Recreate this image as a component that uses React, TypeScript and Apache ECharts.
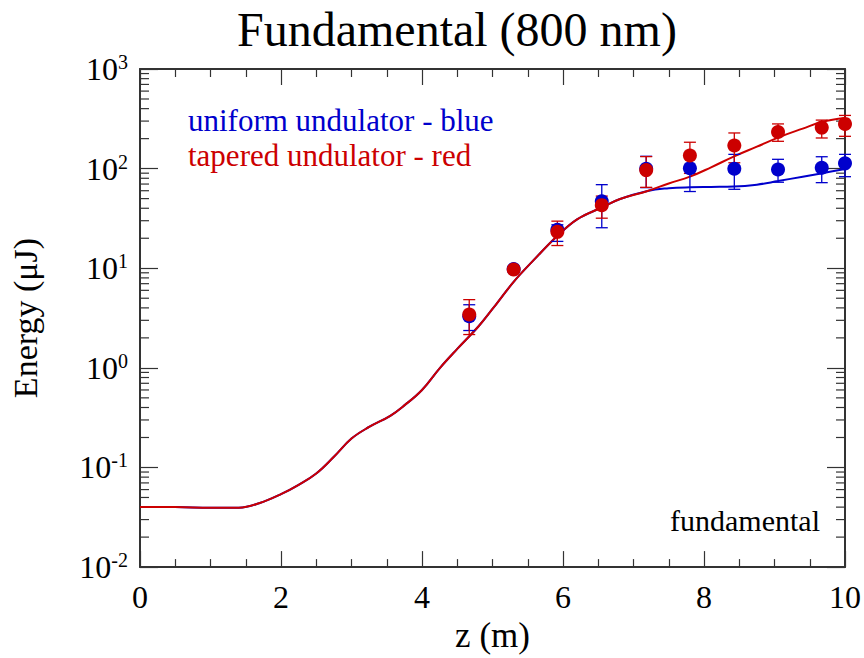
import React, { useEffect, useRef } from "react";
import * as echarts from "echarts";

const FONT = "'Liberation Serif', 'Times New Roman', serif";
const BLUE = "#0000cc";
const RED = "#cc0000";
const AXIS = "#333333";

// Simulated curves (shared part up to z ~ 7.2)
const sharedZ = [0, 0.5, 1.0, 1.4, 1.7, 2.0, 2.25, 2.5, 2.75, 3.0, 3.25, 3.55, 3.75, 4.0, 4.25, 4.5, 4.8, 5.0, 5.3, 5.6, 5.9, 6.2, 6.55, 6.8, 7.2];
const sharedE = [0.04, 0.04, 0.0395, 0.0395, 0.044, 0.054, 0.067, 0.087, 0.128, 0.195, 0.255, 0.33, 0.42, 0.6, 0.99, 1.55, 2.6, 3.9, 7.3, 12.4, 20.5, 31, 40.7, 49.3, 59.7];
const tailZ = [7.5, 7.8, 8.1, 8.42, 8.75, 9.05, 9.4, 9.68, 10.0];
const blueTailE = [63.5, 65, 65.5, 66, 69, 75, 83, 90, 99];
const redTailE = [71, 83, 103, 132, 166, 205, 252, 295, 322];

// Measured points
const pointZ = [4.67, 5.3, 5.92, 6.55, 7.18, 7.8, 8.43, 9.05, 9.67, 10.0];
const blueE = [3.3, 9.8, 24.3, 47, 99.6, 101, 99.6, 98, 102, 113];
const blueLo = [2.37, 9.2, 18.6, 25.5, 64.4, 58.9, 62, 73, 72.3, 83];
const blueHi = [4.3, 10.4, 27.3, 69, 133, 144, 139, 124, 131.6, 139];
const redE = [3.43, 9.7, 23.2, 43, 96.6, 135.5, 170.6, 233, 258, 281];
const redLo = [2.16, 9.2, 16.9, 31.8, 64.9, 89.5, 114.5, 188, 203, 211];
const redHi = [4.84, 10.3, 29.7, 53, 132, 184, 228, 281, 307, 342];

const decades = [-2, -1, 0, 1, 2];
const minorMultipliers = [2, 3, 4, 5, 6, 7, 8, 9];

export default function App() {
  const ref = useRef<HTMLDivElement>(null);
  useEffect(() => {
    if (!ref.current) return;
    const chart = echarts.init(ref.current, null, { renderer: "svg" });

    const blueLine = sharedZ.map((z, i) => [z, sharedE[i]]).concat(tailZ.map((z, i) => [z, blueTailE[i]]));
    const redLine = sharedZ.map((z, i) => [z, sharedE[i]]).concat(tailZ.map((z, i) => [z, redTailE[i]]));
    const minorVals: number[][] = [];
    decades.forEach((d) => minorMultipliers.forEach((m) => minorVals.push([0, m * Math.pow(10, d)])));

    const errRender = (color: string) => (params: any, api: any) => {
      const x = api.value(0);
      const pLo = api.coord([x, api.value(1)]);
      const pHi = api.coord([x, api.value(2)]);
      const cap = 6;
      const style = { stroke: color, lineWidth: 1.3 };
      return {
        type: "group",
        children: [
          { type: "line", shape: { x1: pLo[0], y1: pLo[1], x2: pHi[0], y2: pHi[1] }, style },
          { type: "line", shape: { x1: pLo[0] - cap, y1: pLo[1], x2: pLo[0] + cap, y2: pLo[1] }, style },
          { type: "line", shape: { x1: pHi[0] - cap, y1: pHi[1], x2: pHi[0] + cap, y2: pHi[1] }, style },
        ],
      };
    };

    const minorRender = (params: any, api: any) => {
      const cs = params.coordSys;
      const p = api.coord([0, api.value(1)]);
      const y = p[1];
      const len = 9;
      const style = { stroke: AXIS, lineWidth: 1.2 };
      return {
        type: "group",
        children: [
          { type: "line", shape: { x1: cs.x, y1: y, x2: cs.x + len, y2: y }, style },
          { type: "line", shape: { x1: cs.x + cs.width, y1: y, x2: cs.x + cs.width - len, y2: y }, style },
        ],
      };
    };

    const xCommon = {
      type: "value",
      min: 0,
      max: 10,
      interval: 2,
      axisLine: { show: true, onZero: false, lineStyle: { color: AXIS, width: 2 } },
      axisTick: { show: true, inside: true, length: 16, lineStyle: { color: AXIS, width: 1.2 } },
      minorTick: { show: true, splitNumber: 4, length: 8, lineStyle: { color: AXIS, width: 1.2 } },
      splitLine: { show: false },
      minorSplitLine: { show: false },
    };
    const yCommon = {
      type: "log",
      logBase: 10,
      min: 0.01,
      max: 1000,
      axisLine: { show: true, onZero: false, lineStyle: { color: AXIS, width: 2 } },
      axisTick: { show: true, inside: true, length: 18, lineStyle: { color: AXIS, width: 1.2 } },
      splitLine: { show: false },
    };

    chart.setOption({
      animation: false,
      backgroundColor: "#ffffff",
      grid: { left: 140, right: 18, top: 69, bottom: 88, containLabel: false },
      xAxis: [
        {
          ...xCommon,
          position: "bottom",
          name: "z (m)",
          nameLocation: "middle",
          nameGap: 46,
          nameTextStyle: { fontFamily: FONT, fontSize: 35, color: "#000" },
          axisLabel: { show: true, margin: 14, fontFamily: FONT, fontSize: 32, color: "#000" },
        },
        { ...xCommon, position: "top", axisLabel: { show: false } },
      ],
      yAxis: [
        {
          ...yCommon,
          position: "left",
          name: "Energy (\u03bcJ)",
          nameLocation: "middle",
          nameGap: 98,
          nameTextStyle: { fontFamily: FONT, fontSize: 34, color: "#000" },
          axisLabel: {
            show: true,
            margin: 12,
            formatter: (v: number) => `{b|10}{s|${Math.round(Math.log10(v))}}`,
            rich: {
              b: { fontFamily: FONT, fontSize: 32, color: "#000", lineHeight: 34 },
              s: { fontFamily: FONT, fontSize: 20, color: "#000", verticalAlign: "top", lineHeight: 20 },
            },
          },
        },
        { ...yCommon, position: "right", axisLabel: { show: false } },
      ],
      graphic: [
        {
          type: "text",
          left: 467 - 230,
          top: 5,
          style: { text: "Fundamental (800 nm)", fontFamily: FONT, fontSize: 48, fill: "#000", width: 460, align: "center" },
        },
        { type: "text", left: 188, top: 105, style: { text: "uniform undulator - blue", fontFamily: FONT, fontSize: 31, fill: BLUE } },
        { type: "text", left: 188, top: 140, style: { text: "tapered undulator - red", fontFamily: FONT, fontSize: 31, fill: RED } },
        { type: "text", right: 44, top: 505, style: { text: "fundamental", fontFamily: FONT, fontSize: 30, fill: "#000" } },
      ],
      series: [
        {
          type: "custom",
          name: "minorTicks",
          xAxisIndex: 0,
          yAxisIndex: 0,
          renderItem: minorRender,
          data: minorVals,
          encode: { x: 0, y: 1 },
          clip: false,
          silent: true,
          z: 1,
        },
        {
          type: "line",
          name: "uniform",
          data: blueLine,
          showSymbol: false,
          smooth: 0.4,
          lineStyle: { color: BLUE, width: 2 },
          z: 2,
        },
        {
          type: "line",
          name: "tapered",
          data: redLine,
          showSymbol: false,
          smooth: 0.4,
          lineStyle: { color: RED, width: 2 },
          z: 3,
        },
        {
          type: "custom",
          name: "blueErr",
          renderItem: errRender(BLUE),
          data: pointZ.map((z, i) => [z, blueLo[i], blueHi[i]]),
          encode: { x: 0, y: [1, 2] },
          z: 4,
        },
        {
          type: "custom",
          name: "redErr",
          renderItem: errRender(RED),
          data: pointZ.map((z, i) => [z, redLo[i], redHi[i]]),
          encode: { x: 0, y: [1, 2] },
          z: 5,
        },
        {
          type: "scatter",
          name: "bluePts",
          data: pointZ.map((z, i) => [z, blueE[i]]),
          symbol: "circle",
          symbolSize: 14,
          itemStyle: { color: BLUE, opacity: 1 },
          z: 6,
        },
        {
          type: "scatter",
          name: "redPts",
          data: pointZ.map((z, i) => [z, redE[i]]),
          symbol: "circle",
          symbolSize: 14,
          itemStyle: { color: RED, opacity: 1 },
          z: 7,
        },
      ],
    });
    return () => chart.dispose();
  }, []);
  return <div ref={ref} style={{ width: 864, height: 658, position: "absolute", left: 0, top: 0 }} />;
}
